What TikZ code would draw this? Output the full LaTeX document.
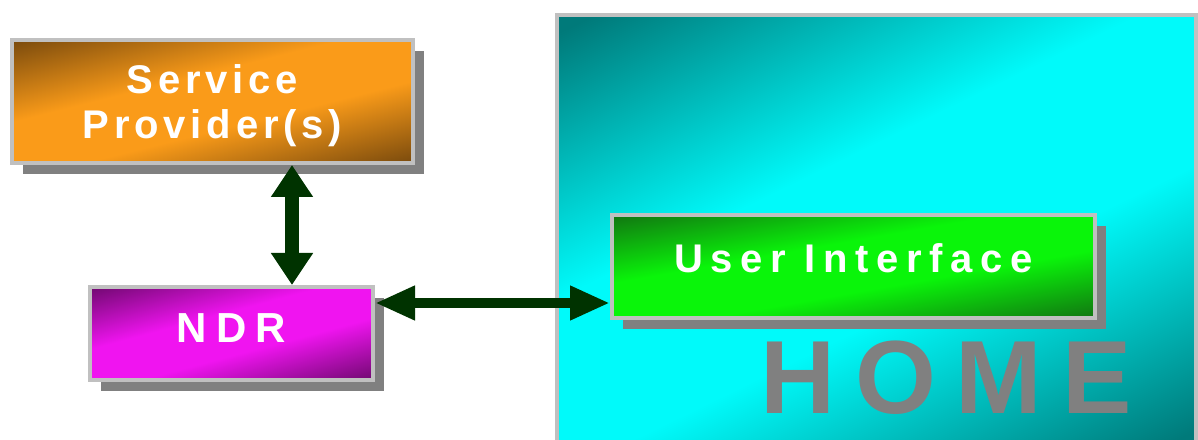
\documentclass[tikz,border=0pt]{standalone}
\usepackage{fontspec}
\setmainfont{Liberation Sans}
\newfontfamily\boxfont[LetterSpace=12]{Liberation Sans}
\newfontfamily\uifont[LetterSpace=19]{Liberation Sans}
\newfontfamily\widefont[LetterSpace=22]{Liberation Sans}
\newfontfamily\homefont[LetterSpace=19]{Liberation Sans}
\usepackage{xcolor}
\usepackage{tikz}
\usetikzlibrary{arrows.meta, positioning, shadows}

\definecolor{rimgray}{RGB}{192,192,192}
\definecolor{shadegray}{RGB}{128,128,128}
\definecolor{arrowgreen}{RGB}{0,51,0}
\definecolor{orangelt}{RGB}{250,155,25}
\definecolor{orangedk}{RGB}{112,68,12}
\definecolor{magentalt}{RGB}{240,20,240}
\definecolor{magentadk}{RGB}{105,8,105}
\definecolor{greenlt}{RGB}{10,245,10}
\definecolor{greendk}{RGB}{18,100,18}
\definecolor{cyanlt}{RGB}{0,250,250}
\definecolor{cyandk}{RGB}{0,122,122}
\colorlet{glowdk}{black}
\colorlet{glowlt}{white}

% dark corners, bright band across the middle
\pgfdeclareverticalshading[glowdk,glowlt]{glowaxis}{100bp}{color(0bp)=(glowdk); color(18bp)=(glowdk);
    color(42bp)=(glowlt); color(58bp)=(glowlt); color(82bp)=(glowdk); color(100bp)=(glowdk)}

\tikzset{
    glow/.style n args={3}{/utils/exec={\colorlet{glowdk}{#1}\colorlet{glowlt}{#2}},
        shading=glowaxis, shading angle=#3},
    blockbox/.style={draw=rimgray, line width=4pt, inner sep=0pt, text=white,
        font=\boxfont\bfseries\fontsize{40}{45}\selectfont, align=center,
        drop shadow={shadow xshift=11pt, shadow yshift=-11pt, fill=shadegray, opacity=1}},
    linkarrow/.style={draw=arrowgreen, line width=#1}
}

\begin{document}
\begin{tikzpicture}[x=1pt, y=1pt]
        \useasboundingbox (0,0) rectangle (1198,439);

        \node[draw=rimgray, line width=4pt, inner sep=0pt, minimum width=639pt, minimum height=434pt,
              glow={cyandk}{cyanlt}{26}] (home) at (876.5,207) {};
        \node[text=shadegray, font=\homefont\bfseries\fontsize{104}{110}\selectfont] (homelabel) at (946,61) {HOME};

        \node[blockbox, minimum width=401pt, minimum height=123pt, glow={orangedk}{orangelt}{14}, text depth=0pt]
            (provider) at (212.5,337.5) {Service\\Provider(s)};
        \node[blockbox, minimum width=283pt, minimum height=93pt, glow={magentadk}{magentalt}{15},
              font=\widefont\bfseries\fontsize{42}{45}\selectfont, text depth=10pt]
            (ndr) at (231.5,105.5) {NDR};
        \node[blockbox, minimum width=483pt, minimum height=103pt, glow={greendk}{greenlt}{10},
              font=\uifont\bfseries\fontsize{40}{45}\selectfont, text depth=16pt]
            (ui) at (853.5,172.5) {User Interface};

        \coordinate (vline) at (292,0);
        \coordinate (hline) at (0,136);
        \draw[linkarrow=14pt, {Triangle[width=40pt,length=32pt]}-{Triangle[width=40pt,length=32pt]}]
            (ndr.north -| vline) -- (provider.south -| vline);
        \draw[linkarrow=10pt, {Triangle[width=32pt,length=40pt]}-{Triangle[width=32pt,length=40pt]}]
            (ndr.east |- hline) -- (ui.west |- hline);
    \end{tikzpicture}
\end{document}
